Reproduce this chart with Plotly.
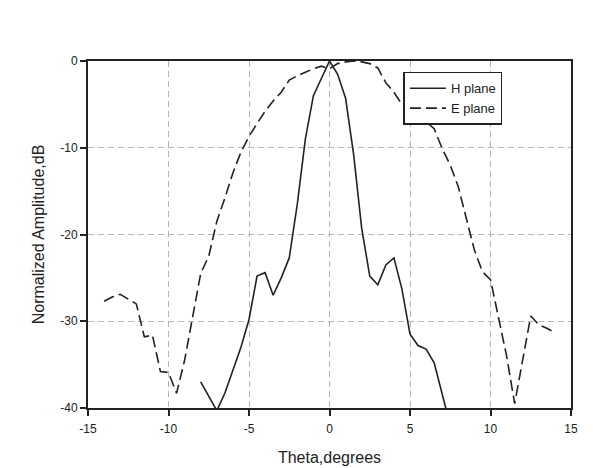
import plotly.graph_objects as go

# H plane (solid)
h_theta = [-8, -7.5, -7, -6.5, -6, -5.5, -5, -4.5, -4, -3.5, -3, -2.5, -2, -1.5, -1, -0.5,
           0, 0.5, 1, 1.5, 2, 2.5, 3, 3.5, 4, 4.5, 5, 5.5, 6, 6.5, 7, 7.5]
h_amp = [-37.0, -38.6, -40.3, -38.3, -35.6, -33.0, -29.8, -24.8, -24.4, -27.0, -25.0, -22.7,
         -16.5, -9.0, -4.0, -2.0, 0.0, -1.5, -4.3, -10.8, -19.3, -24.8, -25.8, -23.5, -22.7,
         -26.3, -31.5, -32.8, -33.2, -34.8, -38.5, -42.0]

# E plane (dashed)
e_theta = [-14, -13.5, -13, -12.5, -12, -11.5, -11, -10.5, -10, -9.5, -9, -8.5, -8, -7.5, -7,
           -6.5, -6, -5.5, -5, -4.5, -4, -3.5, -3, -2.5, -2, -1.5, -1, -0.5, 0, 0.5, 1, 1.5, 2,
           2.5, 3, 3.5, 4, 4.5, 5, 5.5, 6, 6.5, 7, 7.5, 8, 8.5, 9, 9.5, 10, 10.5, 11, 11.5, 12,
           12.5, 13, 13.5, 14]
e_amp = [-27.7, -27.2, -26.9, -27.5, -28.0, -31.8, -31.6, -35.8, -35.9, -38.3, -34.5, -29.5,
         -24.5, -22.5, -18.5, -15.8, -12.9, -10.5, -8.7, -7.2, -5.8, -4.6, -3.6, -2.2, -1.7,
         -1.3, -0.9, -0.6, -0.9, -0.3, -0.1, 0.0, -0.1, -0.3, -0.8, -2.5, -3.6, -5.0, -5.8,
         -6.5, -7.0, -7.8, -10.1, -12.0, -14.5, -18.2, -21.8, -24.3, -25.2, -29.6, -34.0,
         -39.5, -34.2, -29.4, -30.4, -30.8, -31.3]

x_ticks = [-15, -10, -5, 0, 5, 10, 15]
y_ticks = [0, -10, -20, -30, -40]

fig = go.Figure()
fig.add_trace(go.Scatter(x=h_theta, y=h_amp, mode="lines", name="H plane",
                         line=dict(color="#222222", width=1.6)))
fig.add_trace(go.Scatter(x=e_theta, y=e_amp, mode="lines", name="E plane",
                         line=dict(color="#222222", width=1.6, dash="11px,5px")))

font = "Liberation Sans, Arial, sans-serif"
# the page body has an 8px margin, so the figure is sized/offset to compensate
fig.update_layout(
    width=585, height=460,
    margin=dict(l=80, r=22, t=53, b=60),
    paper_bgcolor="white", plot_bgcolor="white",
    font=dict(family=font, size=12, color="#222222"),
    showlegend=True,
    legend=dict(x=0.653, y=0.969, xanchor="left", yanchor="top",
                bgcolor="white", bordercolor="#222222", borderwidth=1.5,
                font=dict(size=13, family=font, color="#222222"),
                tracegroupgap=0, itemwidth=36),
)
fig.update_xaxes(
    range=[-15, 15], tickvals=x_ticks, ticktext=[str(v) for v in x_ticks],
    showline=True, linecolor="#222222", linewidth=1.8, mirror=True,
    ticks="outside", ticklen=6, tickcolor="#222222", tickwidth=1.5,
    ticklabelstandoff=3, automargin=False,
    showgrid=True, gridcolor="#b5b5b5", gridwidth=1, griddash="6px,4px",
    zeroline=False,
    title=dict(text="Theta,degrees", font=dict(size=16, family=font), standoff=17),
    tickfont=dict(size=12),
)
fig.update_yaxes(
    range=[-40, 0], tickvals=y_ticks, ticktext=[str(v) for v in y_ticks],
    showline=True, linecolor="#222222", linewidth=1.8, mirror=True,
    ticks="outside", ticklen=6, tickcolor="#222222", tickwidth=1.5,
    automargin=False,
    showgrid=True, gridcolor="#b5b5b5", gridwidth=1, griddash="6px,4px",
    zeroline=False,
    title=dict(text="Normalized Amplitude,dB", font=dict(size=16, family=font), standoff=12),
    tickfont=dict(size=12),
)

fig.write_html("out.html")
